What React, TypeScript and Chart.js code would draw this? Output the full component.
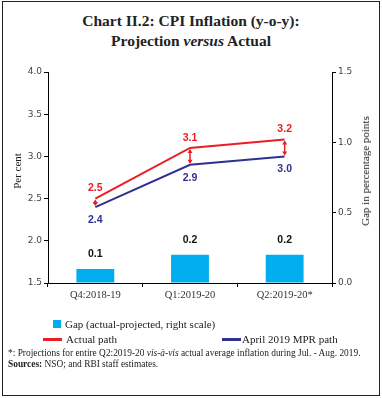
import React, { useEffect, useRef } from "react";
import { Chart, registerables } from "chart.js";

Chart.register(...registerables);

const categories = ["Q4:2018-19", "Q1:2019-20", "Q2:2019-20*"];
const actualPath = [2.5, 3.1, 3.2];
const mprPath = [2.4, 2.9, 3.0];
const gapValues = [0.1, 0.2, 0.2];
const leftTicks = [1.5, 2.0, 2.5, 3.0, 3.5, 4.0];
const rightTicks = [0.0, 0.5, 1.0, 1.5];

const RED = "#ed1c24";
const NAVY = "#2e3192";
const CYAN = "#00aeef";

const annotationPlugin = {
  id: "annotations",
  afterDatasetsDraw(chart: any) {
    const ctx = chart.ctx;
    const xs = chart.scales.x;
    const ys = chart.scales.y;
    const y1 = chart.scales.y1;
    ctx.save();
    ctx.strokeStyle = RED;
    ctx.fillStyle = RED;
    ctx.lineWidth = 1.5;
    for (let i = 0; i < categories.length; i++) {
      const x = xs.getPixelForValue(i);
      const yt = ys.getPixelForValue(actualPath[i]);
      const yb = ys.getPixelForValue(mprPath[i]);
      ctx.beginPath();
      ctx.moveTo(x, yt + 2);
      ctx.lineTo(x, yb - 2);
      ctx.stroke();
      ctx.beginPath();
      ctx.moveTo(x, yt + 1);
      ctx.lineTo(x - 2.5, yt + 5);
      ctx.lineTo(x + 2.5, yt + 5);
      ctx.closePath();
      ctx.fill();
      ctx.beginPath();
      ctx.moveTo(x, yb - 1);
      ctx.lineTo(x - 2.5, yb - 5);
      ctx.lineTo(x + 2.5, yb - 5);
      ctx.closePath();
      ctx.fill();
    }
    ctx.font = "bold 10.5px 'Liberation Sans', Arial, sans-serif";
    ctx.textAlign = "center";
    ctx.textBaseline = "middle";
    for (let i = 0; i < categories.length; i++) {
      const x = xs.getPixelForValue(i);
      ctx.fillStyle = RED;
      ctx.fillText(actualPath[i].toFixed(1), x, ys.getPixelForValue(actualPath[i]) - 10);
      ctx.fillStyle = NAVY;
      ctx.fillText(mprPath[i].toFixed(1), x, ys.getPixelForValue(mprPath[i]) + 13);
      ctx.fillStyle = "#111";
      ctx.fillText(gapValues[i].toFixed(1), x, y1.getPixelForValue(gapValues[i]) - 15);
    }
    ctx.restore();
  },
};

export default function App() {
  const ref = useRef<HTMLCanvasElement | null>(null);

  useEffect(() => {
    if (!ref.current) return;
    const tickFont = { family: "'DejaVu Sans', sans-serif", size: 9 };
    const chart = new Chart(ref.current, {
      type: "bar",
      data: {
        labels: categories,
        datasets: [
          {
            type: "line",
            label: "Actual path",
            data: actualPath,
            borderColor: RED,
            backgroundColor: RED,
            borderWidth: 2,
            pointRadius: 0,
            tension: 0,
            yAxisID: "y",
            order: 1,
          } as any,
          {
            type: "line",
            label: "April 2019 MPR path",
            data: mprPath,
            borderColor: NAVY,
            backgroundColor: NAVY,
            borderWidth: 2,
            pointRadius: 0,
            tension: 0,
            yAxisID: "y",
            order: 1,
          } as any,
          {
            type: "bar",
            label: "Gap (actual-projected, right scale)",
            data: gapValues,
            backgroundColor: CYAN,
            borderWidth: 0,
            categoryPercentage: 1,
            barPercentage: 0.4,
            yAxisID: "y1",
            order: 2,
          } as any,
        ],
      },
      options: {
        responsive: false,
        animation: false,
        devicePixelRatio: 1,
        layout: { padding: { left: 8, right: 10, top: 72, bottom: 95 } },
        plugins: {
          legend: { display: false },
          title: { display: false },
          tooltip: { enabled: false },
        },
        scales: {
          x: {
            offset: true,
            grid: { display: true, drawOnChartArea: false, offset: true, tickLength: 4, color: "#000" },
            border: { color: "#000", width: 1 },
            ticks: {
              font: { family: "'Liberation Serif', serif", size: 10.5 },
              color: "#333",
              padding: 2,
              maxRotation: 0,
            },
            afterFit: (s: any) => {
              s.height = 20;
            },
          },
          y: {
            position: "left",
            min: 1.5,
            max: 4.0,
            afterBuildTicks: (s: any) => {
              s.ticks = leftTicks.map((v) => ({ value: v }));
            },
            ticks: {
              font: tickFont,
              color: "#444",
              padding: 2,
              callback: (v: any) => Number(v).toFixed(1),
            },
            grid: { display: true, drawOnChartArea: false, tickLength: 4, color: "#000" },
            border: { color: "#000", width: 1 },
            afterFit: (s: any) => {
              s.width = 40;
            },
          },
          y1: {
            position: "right",
            min: 0,
            max: 1.5,
            afterBuildTicks: (s: any) => {
              s.ticks = rightTicks.map((v) => ({ value: v }));
            },
            ticks: {
              font: tickFont,
              color: "#444",
              padding: 2,
              callback: (v: any) => Number(v).toFixed(1),
            },
            grid: { display: true, drawOnChartArea: false, tickLength: 4, color: "#000" },
            border: { color: "#000", width: 1 },
            afterFit: (s: any) => {
              s.width = 40;
            },
          },
        },
      } as any,
      plugins: [annotationPlugin],
    });
    return () => chart.destroy();
  }, []);

  const serif = "'Liberation Serif', 'Times New Roman', serif";
  const abs = (extra: React.CSSProperties): React.CSSProperties => ({
    position: "absolute",
    whiteSpace: "nowrap",
    fontFamily: serif,
    color: "#222",
    ...extra,
  });

  return (
    <div
      style={{
        position: "absolute",
        left: 0,
        top: 0,
        width: 382,
        height: 398,
        background: "#fff",
        overflow: "hidden",
      }}
    >
      <div
        style={{
          position: "absolute",
          left: 2,
          top: 1,
          width: 378,
          height: 395,
          border: "1.5px solid #222",
          boxSizing: "border-box",
        }}
      />
      <div
        style={abs({
          left: 0,
          width: 382,
          top: 11,
          textAlign: "center",
          fontWeight: "bold",
          fontSize: 15.5,
          lineHeight: "20px",
          color: "#222",
        })}
      >
        Chart II.2: CPI Inflation (y-o-y):
        <br />
        Projection <i>versus</i> Actual
      </div>
      <canvas ref={ref} width={382} height={398} style={{ position: "absolute", left: 0, top: 0 }} />
      <div
        style={abs({
          left: 17,
          top: 171,
          fontSize: 11,
          transform: "translate(-50%, -50%) rotate(-90deg)",
        })}
      >
        Per cent
      </div>
      <div
        style={abs({
          left: 365,
          top: 171,
          fontSize: 11,
          transform: "translate(-50%, -50%) rotate(-90deg)",
        })}
      >
        Gap in percentage points
      </div>
      <div style={{ position: "absolute", left: 53, top: 320, width: 8, height: 8, background: CYAN }} />
      <div style={abs({ left: 65, top: 316, fontSize: 11, lineHeight: "16px" })}>
        Gap (actual-projected, right scale)
      </div>
      <div style={{ position: "absolute", left: 43, top: 338, width: 19, height: 3, background: RED }} />
      <div style={abs({ left: 66, top: 331, fontSize: 11, lineHeight: "16px" })}>Actual path</div>
      <div style={{ position: "absolute", left: 222, top: 338, width: 19, height: 3, background: NAVY }} />
      <div style={abs({ left: 242, top: 331, fontSize: 11, lineHeight: "16px" })}>April 2019 MPR path</div>
      <div style={abs({ left: 8, top: 347, fontSize: 9.4, lineHeight: "12px" })}>
        *: Projections for entire Q2:2019-20 <i>vis-à-vis</i> actual average inflation during Jul. - Aug. 2019.
      </div>
      <div style={abs({ left: 8, top: 358, fontSize: 9.4, lineHeight: "12px" })}>
        <b>Sources:</b> NSO; and RBI staff estimates.
      </div>
    </div>
  );
}
